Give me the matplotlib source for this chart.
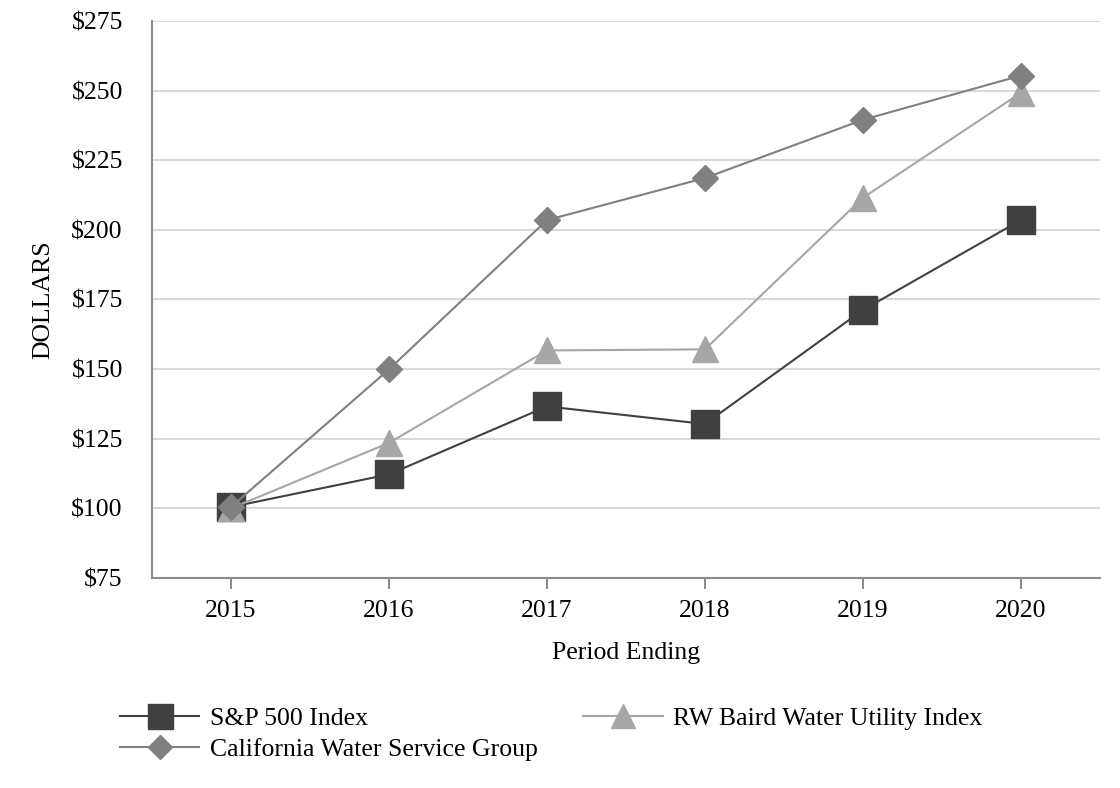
import matplotlib.pyplot as plt

plt.rcParams["font.family"] = ["Liberation Serif", "DejaVu Serif"]

years = ["2015", "2016", "2017", "2018", "2019", "2020"]
sp500 = [100.5, 112.2, 136.6, 130.3, 171.2, 203.5]
rw_baird = [100.0, 123.5, 156.7, 157.1, 211.5, 249.2]
cal_water = [100.5, 149.9, 203.5, 218.6, 239.5, 255.4]
y_ticks = [75, 100, 125, 150, 175, 200, 225, 250, 275]

fig = plt.figure(figsize=(11.2, 7.88), dpi=100)
ax = fig.add_axes([0.1357, 0.2665, 0.8463, 0.7069])

x = list(range(len(years)))
l_sp, = ax.plot(x, sp500, color="#404040", lw=1.5, marker="s", ms=20,
                label="S&P 500 Index", zorder=3)
l_rw, = ax.plot(x, rw_baird, color="#A6A6A6", lw=1.5, marker="^", ms=19,
                label="RW Baird Water Utility Index", zorder=4)
l_cw, = ax.plot(x, cal_water, color="#808080", lw=1.5, marker="D", ms=13.5,
                label="California Water Service Group", zorder=5)

ax.set_xlim(-0.5, len(years) - 0.5)
ax.set_ylim(75, 275)
ax.set_xticks(x)
ax.set_xticklabels(years)
ax.set_yticks(y_ticks)
ax.set_yticklabels([f"${v}" for v in y_ticks])
ax.yaxis.grid(True, color="#D9D9D9", lw=1.5)
ax.set_axisbelow(True)

for side in ("top", "right"):
    ax.spines[side].set_visible(False)
for side in ("left", "bottom"):
    ax.spines[side].set_color("#8C8C8C")
    ax.spines[side].set_linewidth(1.5)
ax.tick_params(axis="y", length=0, labelsize=18.5, pad=21)
ax.tick_params(axis="x", length=8, width=1.5, color="#8C8C8C", labelsize=18.5, pad=8)

ax.set_xlabel("Period Ending", fontsize=18.5, labelpad=14)
ax.set_ylabel("DOLLARS", fontsize=18.5, labelpad=12)

fig.legend(handles=[l_sp, l_cw, l_rw], loc="upper left",
           bbox_to_anchor=(0.107, 0.103), ncol=2, frameon=False, fontsize=18.5,
           handlelength=3.1, handletextpad=0.4, columnspacing=1.78,
           labelspacing=0.31, borderaxespad=0, borderpad=0, markerscale=0.9)

fig.savefig("out.png", dpi=100)
